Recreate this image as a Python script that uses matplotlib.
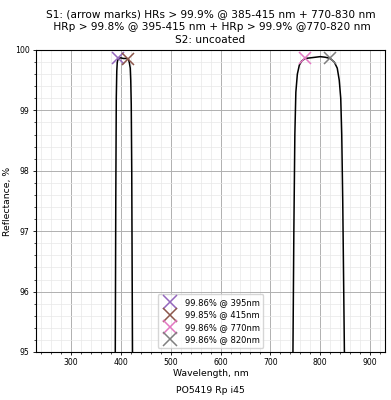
import numpy as np
import matplotlib
matplotlib.use("Agg")
import matplotlib.pyplot as plt
from matplotlib.ticker import MultipleLocator

# spectrum
wl = [380, 386, 389, 390, 391, 392, 393, 395, 400, 405, 410, 415, 417, 419, 420, 421, 422, 423, 424, 428,
      735, 742, 745, 747, 749, 751, 754, 758, 763, 770, 780, 790, 800, 810, 820, 828, 834, 838, 841, 843, 845, 847, 849, 855]
refl = [90, 93, 95.0, 97.5, 99.2, 99.65, 99.8, 99.86, 99.87, 99.86, 99.86, 99.85, 99.8, 99.7, 99.5, 99.1, 98.0, 96.0, 94.0, 90,
        90, 93, 94.8, 97.0, 98.6, 99.3, 99.6, 99.75, 99.82, 99.86, 99.87, 99.88, 99.89, 99.88, 99.86, 99.8, 99.7, 99.5, 99.2, 98.6, 97.5, 96.0, 94.5, 90]

mark_wl = [395, 415, 770, 820]
mark_r = [99.86, 99.85, 99.86, 99.86]
mark_col = ["tab:purple", "tab:brown", "tab:pink", "tab:gray"]

fig, ax = plt.subplots(figsize=(3.91, 4.0), dpi=100)
fig.subplots_adjust(left=0.092, right=0.985, top=0.875, bottom=0.12)

ax.plot(wl, refl, color="black", lw=1.1)
for w, r, c in zip(mark_wl, mark_r, mark_col):
    ax.plot(w, r, "x", color=c, ms=8, mew=1.1, label="%.2f%% @ %dnm" % (r, w))

ax.set_xlim(230, 930)
ax.set_ylim(95, 100)
ax.xaxis.set_major_locator(MultipleLocator(100))
ax.xaxis.set_minor_locator(MultipleLocator(20))
ax.yaxis.set_major_locator(MultipleLocator(1))
ax.yaxis.set_minor_locator(MultipleLocator(0.2))
ax.grid(which="major", color="#b0b0b0", lw=0.7)
ax.grid(which="minor", color="#e8e8e8", lw=0.5)
ax.tick_params(labelsize=5.6, length=2.5, width=0.6, pad=2)
ax.tick_params(which="minor", length=1.5, width=0.5)

ax.set_xlabel("Wavelength, nm", fontsize=6.7, labelpad=1)
ax.set_ylabel("Reflectance, %", fontsize=6.7, labelpad=2)
ax.set_title("S1: (arrow marks) HRs > 99.9% @ 385-415 nm + 770-830 nm\n"
             " HRp > 99.8% @ 395-415 nm + HRp > 99.9% @770-820 nm\nS2: uncoated",
             fontsize=7.6, linespacing=1.35, pad=5)
ax.legend(loc="lower center", fontsize=6, markerscale=1.3, handletextpad=0.8,
          borderpad=0.45, labelspacing=0.4)
fig.text(0.537, 0.018, "PO5419 Rp i45", ha="center", fontsize=6.7)

fig.savefig("out.png", dpi=100)
